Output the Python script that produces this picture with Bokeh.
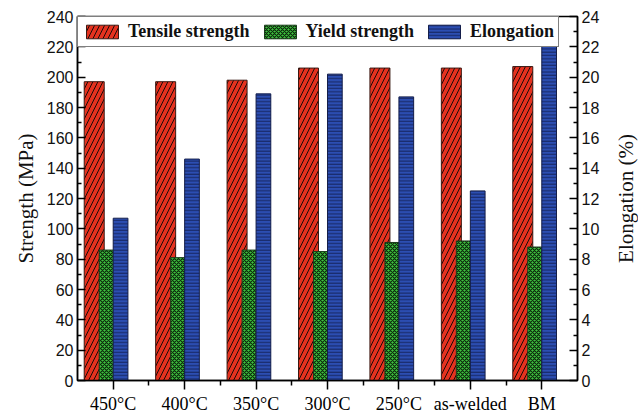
from bokeh.plotting import figure
from bokeh.layouts import row
from bokeh.models import (ColumnDataSource, Range1d, LinearAxis, FixedTicker,
                          Legend, LegendItem)
from bokeh.transform import dodge
from bokeh.embed import file_html
from bokeh.resources import INLINE

# ---- data ----
categories = ["450°C", "400°C", "350°C", "300°C", "250°C", "as-welded", "BM"]
tensile_strength = [197, 197, 198, 206, 206, 206, 207]        # MPa
yield_strength = [86, 81, 86, 85, 91, 92, 88]                 # MPa
elongation = [10.7, 14.6, 18.9, 20.2, 18.7, 12.5, 22.2]       # %
left_ticks = list(range(0, 241, 20))
right_ticks = list(range(0, 25, 2))

xs = list(range(len(categories)))
src = ColumnDataSource(dict(x=xs, tensile=tensile_strength,
                            yld=yield_strength, elong=elongation))

SERIF = "Liberation Serif"
SANS = "Liberation Sans"

p = figure(width=610, height=416, output_backend="svg", toolbar_location=None,
           x_range=Range1d(-0.5, 6.5), y_range=Range1d(0, 240),
           min_border_left=77, min_border_right=33, min_border_top=16,
           min_border_bottom=33)
p.extra_y_ranges = {"el": Range1d(0, 24)}
p.xgrid.visible = False
p.ygrid.visible = False
p.outline_line_color = "black"
p.outline_line_width = 1.5
p.background_fill_color = "white"
p.border_fill_color = "white"

r1 = p.vbar(x=dodge("x", -0.266, range=p.x_range), top="tensile", width=0.28,
            source=src, fill_color="#e5321f", line_color="#3a1a14", line_width=1,
            hatch_pattern="/", hatch_color="#1a0a08", hatch_scale=10, hatch_weight=1)
r2 = p.vbar(x=dodge("x", -0.098, range=p.x_range), top="yld", width=0.196,
            source=src, fill_color="#3fc23f", line_color="#1a3a1a", line_width=1,
            hatch_pattern="x", hatch_color="#0b2a0b", hatch_scale=4, hatch_weight=1.2)
r3 = p.vbar(x=dodge("x", 0.103, range=p.x_range), top="elong", width=0.206,
            source=src, fill_color="#2c4eb2", line_color="#141e4a", line_width=1,
            hatch_pattern="-", hatch_color="#16245e", hatch_scale=3.3, hatch_weight=1,
            y_range_name="el")

# x axis
xax = p.xaxis[0]
xax.ticker = FixedTicker(ticks=xs, minor_ticks=[i + 0.5 for i in xs[:-1]])
xax.major_label_overrides = {i: c for i, c in enumerate(categories)}
xax.major_label_text_font = SERIF
xax.major_label_text_font_size = "18px"
xax.major_label_text_color = "black"
xax.major_tick_in = 0
xax.major_tick_out = 9
xax.minor_tick_in = 0
xax.minor_tick_out = 5
xax.major_label_standoff = 4
xax.axis_line_width = 1.5
xax.major_tick_line_width = 1.5
xax.minor_tick_line_width = 1.5


def style_y(ax):
    ax.major_label_text_font = SANS
    ax.major_label_text_font_size = "16px"
    ax.major_label_text_color = "#111111"
    ax.major_tick_in = 8
    ax.major_tick_out = 0
    ax.minor_tick_in = 4
    ax.minor_tick_out = 0
    ax.major_label_standoff = 4
    ax.axis_line_width = 1.5
    ax.major_tick_line_width = 1.5
    ax.minor_tick_line_width = 1.5


yax = p.yaxis[0]
yax.ticker = FixedTicker(ticks=left_ticks, minor_ticks=list(range(10, 240, 20)))
style_y(yax)
yax.axis_label = "Strength (MPa)"
yax.axis_label_text_font = SERIF
yax.axis_label_text_font_style = "normal"
yax.axis_label_text_font_size = "21px"
yax.axis_label_text_color = "#111111"
yax.axis_label_standoff = 6

rax = LinearAxis(y_range_name="el",
                 ticker=FixedTicker(ticks=right_ticks, minor_ticks=list(range(1, 24, 2))))
style_y(rax)
p.add_layout(rax, "right")

legend = Legend(items=[LegendItem(label="Tensile strength", renderers=[r1]),
                       LegendItem(label="Yield strength", renderers=[r2]),
                       LegendItem(label="Elongation", renderers=[r3])],
                location="top_left", orientation="horizontal",
                margin=0, padding=4, spacing=10, label_standoff=6,
                glyph_width=40, glyph_height=17, label_height=17,
                label_text_font=SERIF, label_text_font_style="bold",
                label_text_font_size="18px", label_text_color="#111111",
                border_line_color="black", border_line_width=1.5,
                background_fill_alpha=1.0)
p.add_layout(legend, "center")

# narrow companion figure that only carries the right-hand axis title
# (drawn as a left axis label so it reads bottom-to-top like the reference)
p2 = figure(width=28, height=416, output_backend="svg", toolbar_location=None,
            x_range=Range1d(0, 1), y_range=Range1d(0, 24),
            min_border_left=0, min_border_right=0, min_border_top=16,
            min_border_bottom=33)
p2.xaxis.visible = False
p2.xgrid.visible = False
p2.ygrid.visible = False
p2.outline_line_color = None
p2.background_fill_color = "white"
p2.border_fill_color = "white"
ax2 = p2.yaxis[0]
ax2.ticker = FixedTicker(ticks=[])
ax2.axis_line_color = None
ax2.major_tick_line_color = None
ax2.minor_tick_line_color = None
ax2.major_tick_in = 0
ax2.major_tick_out = 0
ax2.minor_tick_in = 0
ax2.minor_tick_out = 0
ax2.major_label_standoff = 0
ax2.axis_label = "Elongation (%)"
ax2.axis_label_text_font = SERIF
ax2.axis_label_text_font_style = "normal"
ax2.axis_label_text_font_size = "21px"
ax2.axis_label_text_color = "#111111"
ax2.axis_label_standoff = 0

layout = row(p, p2, spacing=0)
open("out.html", "w").write(file_html(layout, INLINE))
